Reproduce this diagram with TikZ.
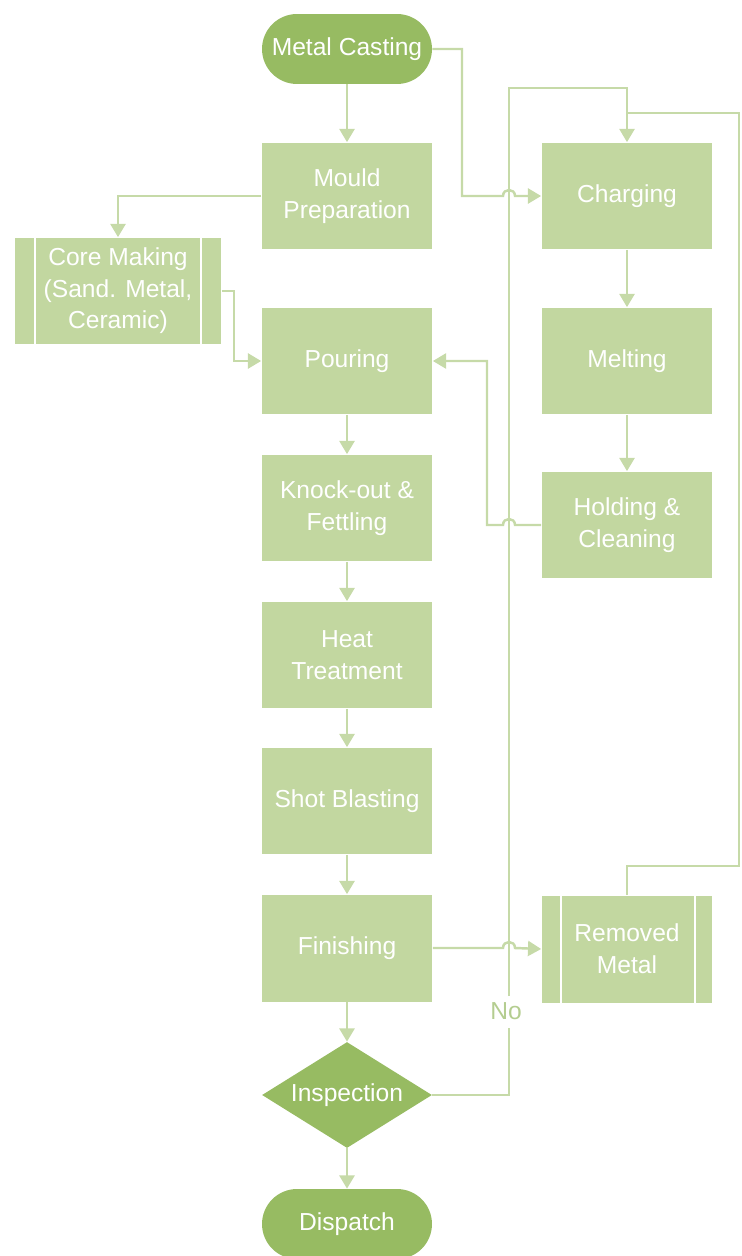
\documentclass[tikz,border=0pt]{standalone}
\usepackage{fontspec}
\setmainfont{Liberation Sans}
\usetikzlibrary{shapes.geometric,arrows.meta}

\definecolor{darkgreen}{HTML}{97BB62}
\definecolor{lightgreen}{HTML}{C2D7A0}
\definecolor{linegreen}{HTML}{C6DAA8}
\definecolor{labelgreen}{HTML}{B4CD90}

\tikzset{
  proc/.style={rectangle, fill=lightgreen, text=white, minimum width=3.42cm,
    minimum height=2.14cm, align=center, inner sep=0pt},
  subproc/.style={proc, minimum width=4.14cm},
  term/.style={rectangle, rounded corners=0.7cm, fill=darkgreen, text=white,
    minimum width=3.4cm, minimum height=1.4cm, inner sep=0pt},
  decis/.style={diamond, aspect=1.6, fill=darkgreen, text=white,
    minimum width=3.4cm, minimum height=2.12cm, inner sep=0pt},
  line/.style={draw=linegreen, line width=1.4pt},
  conn/.style={line, -{Triangle[width=8.5pt,length=7.5pt]}},
  bar/.style={draw=white, line width=1.2pt}
}

\begin{document}
\begin{tikzpicture}[x=0.02cm,y=-0.02cm,font=\fontsize{14}{18}\selectfont]
\useasboundingbox (0,0) rectangle (741,1256);

% main column
\node[term] (cast) at (347,49) {Metal Casting};
\node[proc] (mould) at (347,196) {Mould\\Preparation};
\node[subproc] (core) at (118,291) {Core Making\\(Sand. Metal,\\Ceramic)};
\node[proc] (pour) at (347,361) {Pouring};
\node[proc] (knock) at (347,508) {Knock-out \&\\Fettling};
\node[proc] (heat) at (347,655) {Heat\\Treatment};
\node[proc] (shot) at (347,801) {Shot Blasting};
\node[proc] (fin) at (347,948) {Finishing};
\node[decis] (insp) at (347,1095) {Inspection};
\node[term] (disp) at (347,1224) {Dispatch};

% furnace column
\node[proc] (charg) at (627,196) {Charging};
\node[proc] (melt) at (627,361) {Melting};
\node[proc] (hold) at (627,525) {Holding \&\\Cleaning};
\node[proc] (remov) at (627,949) {Removed\\Metal};

% side bars of the predefined processes
\draw[bar] ([xshift=0.42cm]core.north west) -- ([xshift=0.42cm]core.south west);
\draw[bar] ([xshift=-0.42cm]core.north east) -- ([xshift=-0.42cm]core.south east);
\draw[bar] ([xshift=0.4cm]remov.north west) -- ([xshift=0.4cm]remov.south west);
\draw[bar] ([xshift=-0.36cm]remov.north east) -- ([xshift=-0.36cm]remov.south east);

\node[text=labelgreen] (nolbl) at (506,1011) {No};
\coordinate (join) at (627,113);

% flow
\draw[conn] (cast) -- (mould);
\draw[conn] (mould.west) -| (core.north);
\draw[conn] (core.east) -- ++(12,0) |- (pour.west);
\draw[conn] (pour) -- (knock);
\draw[conn] (knock) -- (heat);
\draw[conn] (heat) -- (shot);
\draw[conn] (shot) -- (fin);
\draw[conn] (fin) -- (insp);
\draw[conn] (insp) -- (disp);

\draw[conn] (cast.east) -- (462,49) -- (462,196) -- (503,196)
  .. controls (503,188) and (515,188) .. (515,196) -- (charg.west);
\draw[conn] (charg) -- (melt);
\draw[conn] (melt) -- (hold);
\draw[conn] (hold.west) -- (515,525) .. controls (515,517) and (503,517) .. (503,525)
  -- (487,525) |- (pour.east);
\draw[conn] (fin.east) -- (503,948) .. controls (503,940) and (515,940) .. (515,948)
  -- (remov.west);

% rework loop
\draw[line] (insp.east) -| (509,1028);
\draw[conn] (509,996) -- (509,88) -| (charg.north);
\draw[line] (remov.north) -- (627,866) -- (739,866) -- (739,113) -- (join);
\end{tikzpicture}
\end{document}
